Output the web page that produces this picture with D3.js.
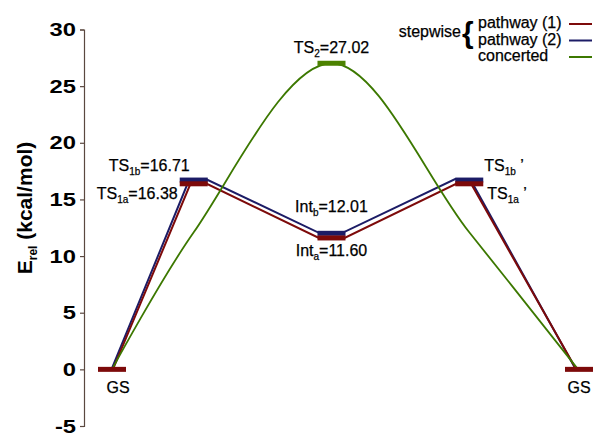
<!DOCTYPE html>
<html>
<head>
<meta charset="utf-8">
<script src="https://cdn.jsdelivr.net/npm/d3@7"></script>
<style>
  body { margin: 0; background: #fff; }
  text { font-family: "Liberation Sans", Arial, sans-serif; fill: #000; }
  .lbl { stroke: #000; stroke-width: 0.25px; }
</style>
</head>
<body>
<div id="chart"></div>
<script>
// reaction coordinate positions of the stationary points (arbitrary units)
const levelNames = ["GS", "TS1", "Int", "TS1'", "GS'"];
const levelX = [0, 17.5, 47, 76.5, 100];

// relative energies, kcal/mol
const pathway1 = [0, 16.38, 11.60, 16.38, 0];   // a
const pathway2 = [0, 16.71, 12.01, 16.71, 0];   // b
const ts2 = 27.02;

// where the stepwise lines enter / leave each level
const pathInX = [0, 16.8, 44.3, 73.7, 99.4];
const pathOutX = [0.2, 20.3, 49.8, 76.9, 100];

// concerted curve knots
const concertedX = [0, 17.5, 47, 76.5, 99.8];
const concertedY = [0, 12.1, 27.02, 12.1, 0];

const yTicks = [-5, 0, 5, 10, 15, 20, 25, 30];

const red = "#7d0a0a";
const blue = "#1c1c66";
const green = "#3c7800";

const width = 597, height = 436;

const x = d3.scaleLinear().domain([0, 100]).range([112, 579]);
const y = d3.scaleLinear().domain([-5, 30]).range([426, 29.5]);
const barHalf = 3;

const svg = d3.select("#chart").append("svg")
    .attr("width", width)
    .attr("height", height);

// y axis
const yAxis = svg.append("g")
    .attr("transform", "translate(84,0)")
    .call(d3.axisLeft(y).tickValues(yTicks).tickSize(4).tickPadding(2.4)
        .tickFormat(d => String(d)));
yAxis.select(".domain").attr("stroke", "#5a4840").attr("stroke-width", 1.2);
yAxis.selectAll(".tick line").attr("stroke", "#5a4840").attr("stroke-width", 1.2);
yAxis.selectAll(".tick text")
    .style("font-family", "Liberation Sans, Arial, sans-serif")
    .style("font-size", "19px")
    .style("font-weight", "bold")
    .attr("fill", "#000")
    .attr("transform", "scale(1.25,1)");

// y title
const yTitle = svg.append("text")
    .attr("transform", "translate(32,208) rotate(-90)")
    .attr("text-anchor", "middle")
    .style("font-size", "21px")
    .style("font-weight", "bold");
yTitle.append("tspan").text("E");
yTitle.append("tspan").attr("dy", 5).style("font-size", "12px").text("rel");
yTitle.append("tspan").attr("dy", -5).text(" (kcal/mol)");

function pathPoints(vals) {
    const pts = [];
    vals.forEach((v, i) => {
        pts.push([pathInX[i], v]);
        if (pathOutX[i] !== pathInX[i]) pts.push([pathOutX[i], v]);
    });
    return pts;
}

const line = d3.line().x(d => x(d[0])).y(d => y(d[1]));

// stepwise lines
svg.append("path")
    .datum(pathPoints(pathway2))
    .attr("fill", "none")
    .attr("stroke", blue)
    .attr("stroke-width", 2)
    .attr("transform", "translate(-1,-1)")
    .attr("d", line);
svg.append("path")
    .datum(pathPoints(pathway1))
    .attr("fill", "none")
    .attr("stroke", red)
    .attr("stroke-width", 2)
    .attr("d", line);

// concerted
const curve = d3.line()
    .x(d => x(d[0]))
    .y(d => y(d[1]))
    .curve(d3.curveCatmullRom.alpha(0.5));
svg.append("path")
    .datum(concertedX.map((v, i) => [v, concertedY[i]]))
    .attr("fill", "none")
    .attr("stroke", green)
    .attr("stroke-width", 1.8)
    .attr("d", curve);

// level bars
function bar(cx, val, color) {
    svg.append("line")
        .attr("x1", x(cx - barHalf)).attr("x2", x(cx + barHalf))
        .attr("y1", y(val)).attr("y2", y(val))
        .attr("stroke", color)
        .attr("stroke-width", 5);
}
[1, 2, 3].forEach(i => bar(levelX[i], pathway2[i], blue));
levelX.forEach((cx, i) => bar(cx, pathway1[i], red));
bar(levelX[2], ts2, "#4c8200");

// labels
function label(px, py, anchor, main, sub, rest) {
    const t = svg.append("text")
        .attr("class", "lbl")
        .attr("x", px).attr("y", py)
        .attr("text-anchor", anchor)
        .style("font-size", "16px");
    t.append("tspan").text(main);
    if (sub) t.append("tspan").attr("dy", 4).style("font-size", "10px").text(sub);
    if (rest) t.append("tspan").attr("dy", sub ? -4 : 0).text(rest);
    return t;
}

label(x(levelX[1]) - 4, y(pathway2[1]) - 9, "end", "TS", "1b", "=16.71");
label(x(levelX[1]) - 16, y(pathway1[1]) + 15, "end", "TS", "1a", "=16.38");
label(x(levelX[2]), y(ts2) - 10, "middle", "TS", "2", "=27.02");
label(x(levelX[2]), y(pathway2[2]) - 21, "middle", "Int", "b", "=12.01");
label(x(levelX[2]), y(pathway1[2]) + 18, "middle", "Int", "a", "=11.60");
label(x(levelX[3]) + 15, y(pathway2[3]) - 9, "start", "TS", "1b", " \u2019");
label(x(levelX[3]) + 18, y(pathway1[3]) + 15, "start", "TS", "1a", " \u2019");
label(x(levelX[0]) + 6, y(0) + 24, "middle", "GS");
label(x(levelX[4]), y(0) + 24, "middle", "GS");

// legend
const legendNames = ["pathway (1)", "pathway (2)", "concerted"];
const legendColors = [red, blue, green];
const leg = svg.append("g");
leg.append("text")
    .attr("class", "lbl")
    .attr("x", 461).attr("y", 37)
    .attr("text-anchor", "end")
    .style("font-size", "16px")
    .text("stepwise");
leg.append("text")
    .attr("x", 462).attr("y", 43)
    .style("font-size", "30px")
    .style("font-weight", "bold")
    .text("{");
legendNames.forEach((n, i) => {
    leg.append("text")
        .attr("class", "lbl")
        .attr("x", 478).attr("y", 28 + i * 16.5)
        .style("font-size", "16px")
        .text(n);
    leg.append("line")
        .attr("x1", 569).attr("x2", 592)
        .attr("y1", 24 + i * 16.5).attr("y2", 24 + i * 16.5)
        .attr("stroke", legendColors[i])
        .attr("stroke-width", 2);
});
</script>
</body>
</html>
